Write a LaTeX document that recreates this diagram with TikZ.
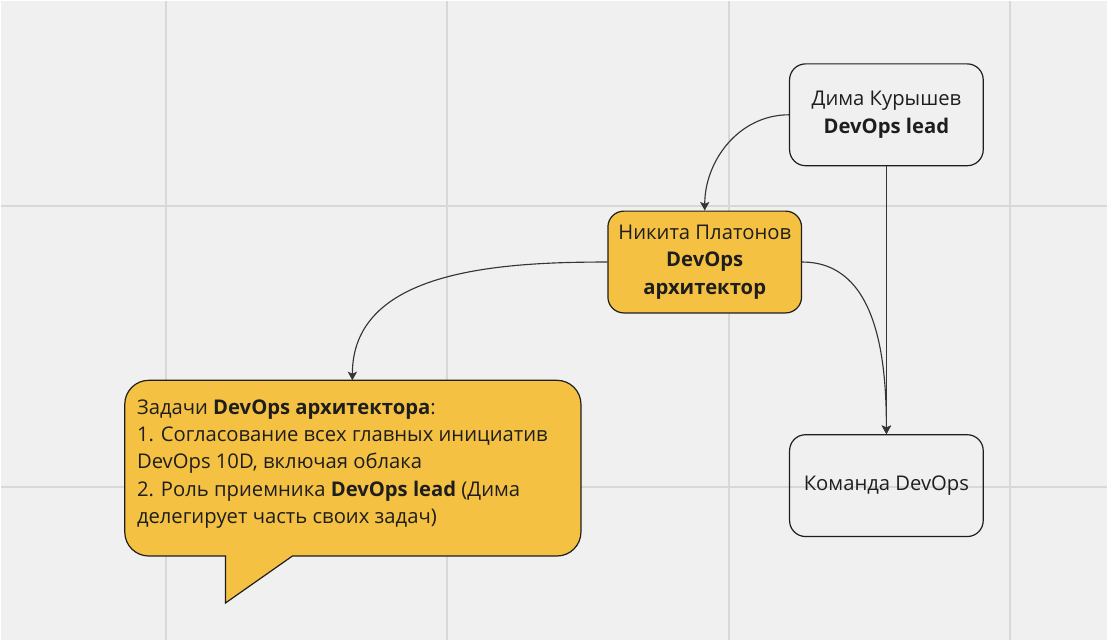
\documentclass[tikz,border=0pt]{standalone}
\usepackage{fontspec}
\usetikzlibrary{arrows.meta}
\setmainfont{Open Sans}
\definecolor{boardbg}{HTML}{F0F0F0}
\definecolor{gridcol}{HTML}{D8D8D8}
\definecolor{inkcol}{HTML}{1E1E1E}
\definecolor{notecol}{HTML}{F4C142}

\begin{document}
\begin{tikzpicture}[x=0.75pt, y=-0.75pt, >={Stealth[length=6.5pt,width=7pt,inset=1.5pt]}, font=\fontsize{15.2}{20.5}\selectfont, text=inkcol]
    \tikzstyle{person}=[rectangle,draw=inkcol,line width=0.9pt,rounded corners=12pt,align=center,minimum width=145.5pt,minimum height=76.5pt]
    \tikzstyle{lead}=[person,fill=notecol]
    \tikzstyle{link}=[->,draw=inkcol!90!white,line width=0.85pt]
    % board
    \fill[boardbg] (0,0) rectangle (1108,640);
    \foreach \x in {165,447,729,1011} \draw[gridcol,line width=1.5pt] (\x,0) -- (\x,640);
    \foreach \y in {205,487} \draw[gridcol,line width=1.5pt] (0,\y) -- (1108,\y);
    % people
    \node[person] (dima) at (887,114) {Дима Курышев\\\textbf{DevOps lead}};
    \node[lead] (nikita) at (705,261.5) {Никита Платонов\\\textbf{DevOps}\\\textbf{архитектор}};
    \node[person] (team) at (887,485.5) {Команда DevOps};
    % callout
    \draw[fill=notecol,draw=inkcol,line width=0.9pt] (124,470) [rounded corners=18pt] -- (124,556) [sharp corners] -- (225,556) -- (225,603) -- (292,556) [rounded corners=18pt] -- (581,556) -- (581,380) -- (124,380) -- cycle;
    \coordinate (notetop) at (352,380);
    \node[anchor=north west,inner sep=0pt,align=left] (tasks) at (136,399) {Задачи \textbf{DevOps архитектора}:\\1. Согласование всех главных инициатив\\DevOps 10D, включая облака\\2. Роль приемника \textbf{DevOps lead} (Дима\\делегирует часть своих задач)};
    % links
    \draw[link](dima.west)to[out=180,in=90](nikita.north);
    \draw[link](dima.south)--(team.north);
    \draw[link](nikita.east)to[out=0,in=90](team.north);
    \draw[link](nikita.west)to[out=180,in=90](notetop);
\end{tikzpicture}
\end{document}
